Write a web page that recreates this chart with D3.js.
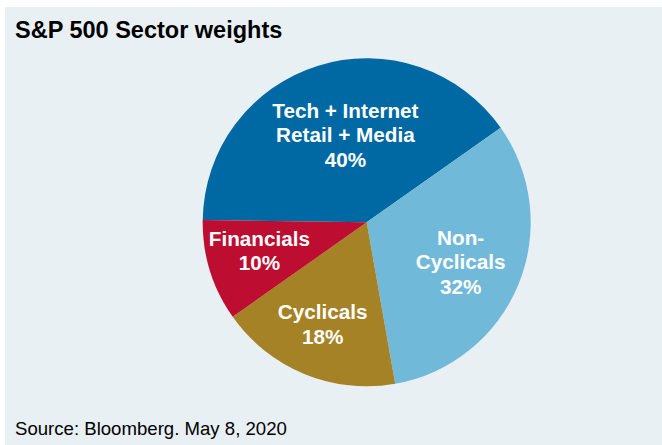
<!DOCTYPE html>
<html>
<head>
<meta charset="utf-8">
<script src="https://cdn.jsdelivr.net/npm/d3@7"></script>
<style>
  html, body { margin: 0; padding: 0; background: #ffffff; }
  svg { display: block; }
</style>
</head>
<body>
<script>
// ---- data ----
const sectors = ["Tech + Internet\nRetail + Media", "Non-\nCyclicals", "Cyclicals", "Financials"];
const weights = [40, 32, 18, 10];
const colors = ["#0068a3", "#71b9d9", "#a58225", "#bd0d30"];
const title = "S&P 500 Sector weights";
const source = "Source: Bloomberg. May 8, 2020";

// ---- layout ----
const W = 662, H = 445;
const cx = 366.7, cy = 222.3, R = 164;
const labelRadius = [90, 102, 111, 111];
const labelAngleShift = [3.5, 0.5, 1, 2.4]; // degrees
const lineH = 24.5;

const svg = d3.select("body").append("svg").attr("width", W).attr("height", H);

svg.append("rect").attr("x", 5).attr("y", 7).attr("width", W - 5).attr("height", H - 7)
  .attr("fill", "#e9f0f4");

svg.append("text").attr("x", 15).attr("y", 37.5)
  .attr("font-family", "'Liberation Sans', Arial, sans-serif")
  .attr("font-weight", "bold").attr("font-size", 23.5).attr("fill", "#000")
  .text(title);

svg.append("text").attr("x", 15).attr("y", 435)
  .attr("font-family", "'Liberation Sans', Arial, sans-serif")
  .attr("font-size", 18.6).attr("fill", "#000")
  .text(source);

const start = -89.2 * Math.PI / 180;
const pie = d3.pie().sort(null).startAngle(start).endAngle(start + 2 * Math.PI);
const arcs = pie(weights);
const arc = d3.arc().innerRadius(0).outerRadius(R);

const g = svg.append("g").attr("transform", `translate(${cx},${cy})`);
g.selectAll("path").data(arcs).enter().append("path")
  .attr("d", arc)
  .attr("fill", (d, i) => colors[i]);

arcs.forEach((d, i) => {
  const mid = (d.startAngle + d.endAngle) / 2 + labelAngleShift[i] * Math.PI / 180;
  const x = Math.sin(mid) * labelRadius[i];
  const y = -Math.cos(mid) * labelRadius[i];
  const lines = sectors[i].split("\n").concat([weights[i] + "%"]);
  const n = lines.length;
  const t = g.append("text")
    .attr("text-anchor", "middle")
    .attr("font-family", "'Liberation Sans', Arial, sans-serif")
    .attr("font-weight", "bold").attr("font-size", 20.7).attr("fill", "#ffffff");
  lines.forEach((ln, k) => {
    t.append("tspan").attr("x", x)
      .attr("y", y + (k - (n - 1) / 2) * lineH + 7.5)
      .text(ln);
  });
});
</script>
</body>
</html>
